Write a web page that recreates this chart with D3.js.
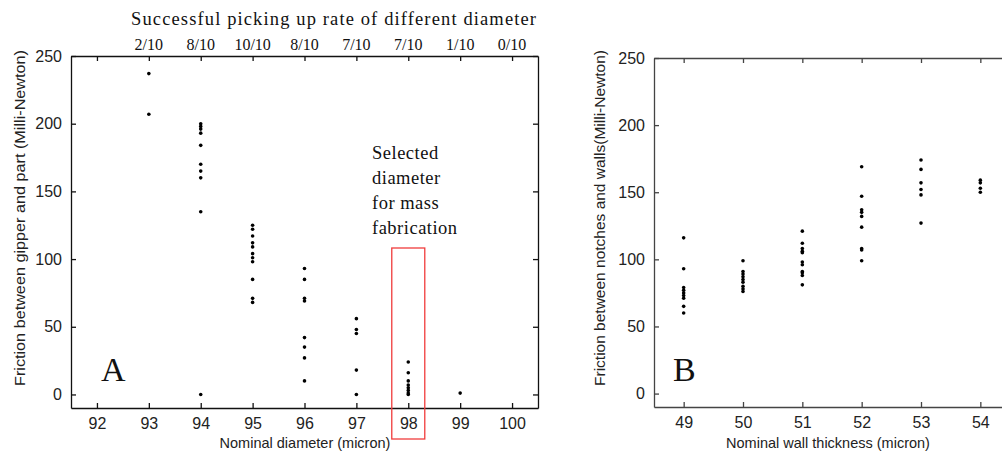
<!DOCTYPE html>
<html>
<head>
<meta charset="utf-8">
<script src="https://cdn.jsdelivr.net/npm/d3@7"></script>
<style>
  body { margin: 0; background: #fff; }
  svg { display: block; }
  .tick text { font-family: "Liberation Sans", Arial, sans-serif; }
</style>
</head>
<body>
<svg id="chart" width="1002" height="455"></svg>
<script>
// --- data ---
const diameters = [92, 93, 94, 95, 96, 97, 98, 99, 100];
const pickRates = ["", "2/10", "8/10", "10/10", "8/10", "7/10", "7/10", "1/10", "0/10"];
const frictionA = [
  [],
  [237, 207],
  [200, 198, 196, 193, 184, 170, 165, 160, 135, 0],
  [125, 122, 117, 112, 109, 104, 101, 98, 85, 71, 68],
  [93, 85, 71, 69, 42, 35, 27, 10],
  [56, 48, 45, 18, 0],
  [24, 16, 10, 7, 5, 3, 1, 0],
  [1],
  []
];

const walls = [49, 50, 51, 52, 53, 54];
const frictionB = [
  [116, 93, 79, 77, 75, 73, 71, 65, 60],
  [99, 91, 89, 87, 85, 83, 80, 78, 76],
  [121, 112, 108, 106, 105, 98, 96, 91, 90, 88, 81],
  [169, 147, 137, 135, 132, 124, 108, 107, 99],
  [174, 167, 157, 152, 148, 127],
  [159, 157, 153, 150]
];

const yTicks = [0, 50, 100, 150, 200, 250];

const svg = d3.select("#chart");
const sans = '"Liberation Sans", Arial, sans-serif';
const serif = '"Liberation Serif", "Times New Roman", serif';

function flatten(xs, groups) {
  const out = [];
  groups.forEach((g, i) => g.forEach(v => out.push({ x: xs[i], y: v })));
  return out;
}

function drawPanel(opt) {
  const { left, right, top, bottom, xDomain, xTicks, pts, color } = opt;
  const x = d3.scaleLinear().domain(xDomain).range([left, right]);
  const y = d3.scaleLinear().domain([-10, 250]).range([bottom, top]);
  const g = svg.append("g");

  const bottomAxis = d3.axisBottom(x).tickValues(xTicks).tickFormat(d3.format("d"))
    .tickSizeInner(-5).tickSizeOuter(0).tickPadding(10);
  const leftAxis = d3.axisLeft(y).tickValues(yTicks).tickFormat(d3.format("d"))
    .tickSizeInner(-5).tickSizeOuter(0).tickPadding(9);

  const gb = g.append("g").attr("transform", `translate(0,${bottom})`).call(bottomAxis);
  const gl = g.append("g").attr("transform", `translate(${left},0)`).call(leftAxis);
  const gt = g.append("g").attr("transform", `translate(0,${top})`)
    .call(d3.axisTop(x).tickValues(xTicks).tickSizeInner(-5).tickSizeOuter(0).tickFormat(""));
  [gb, gl, gt].forEach(a => {
    a.select(".domain").attr("stroke", color).attr("stroke-width", 1.3);
    a.selectAll(".tick line").attr("stroke", color).attr("stroke-width", 1.3);
    a.selectAll(".tick text").attr("fill", "#222").style("font-size", "16px");
  });
  gb.selectAll(".tick text").attr("dy", "0.71em");
  if (opt.rightAxis) {
    const gr = g.append("g").attr("transform", `translate(${right},0)`)
      .call(d3.axisRight(y).tickValues(yTicks).tickSizeInner(-5).tickSizeOuter(0).tickFormat(""));
    gr.select(".domain").attr("stroke", color).attr("stroke-width", 1.3);
    gr.selectAll(".tick line").attr("stroke", color).attr("stroke-width", 1.3);
  }

  g.append("g").selectAll("circle").data(pts).join("circle")
    .attr("cx", d => x(d.x)).attr("cy", d => y(d.y))
    .attr("r", 1.8).attr("fill", "#000");

  // axis titles
  g.append("text").attr("x", opt.xLabelX).attr("y", 448)
    .attr("text-anchor", "middle").attr("font-family", sans).attr("font-size", 14.5)
    .attr("fill", "#222").text(opt.xLabel);
  g.append("text").attr("transform", `translate(${opt.yLabelX},218) rotate(-90)`)
    .attr("text-anchor", "middle").attr("font-family", sans).attr("font-size", 14)
    .attr("fill", "#222").attr("textLength", 336).attr("lengthAdjust", "spacingAndGlyphs")
    .text(opt.yLabel);

  // panel letter
  g.append("text").attr("x", opt.letterX).attr("y", 381)
    .attr("font-family", serif).attr("font-size", 34).attr("fill", "#111").text(opt.letter);

  return { x, y, g };
}

const A = drawPanel({
  left: 71, right: 538, top: 56, bottom: 408,
  xDomain: [91.5, 100.5], xTicks: diameters,
  pts: flatten(diameters, frictionA), color: "#111", rightAxis: true,
  xLabel: "Nominal diameter (micron)", xLabelX: 305,
  yLabel: "Friction between gipper and part (Milli-Newton)", yLabelX: 25,
  letter: "A", letterX: 101
});

const B = drawPanel({
  left: 654, right: 1010, top: 58, bottom: 407,
  xDomain: [48.5, 54.5], xTicks: walls,
  pts: flatten(walls, frictionB), color: "#444", rightAxis: false,
  xLabel: "Nominal wall thickness (micron)", xLabelX: 828,
  yLabel: "Friction between notches and walls(Milli-Newton)", yLabelX: 605,
  letter: "B", letterX: 673
});

// top axis labels for panel A (pick-up rate)
A.g.append("g").selectAll("text").data(diameters.slice(1)).join("text")
  .attr("x", d => A.x(d)).attr("y", 50)
  .attr("text-anchor", "middle").attr("font-family", serif).attr("font-size", 16)
  .attr("fill", "#111").text((d, i) => pickRates[i + 1]);

A.g.append("text").attr("x", 131).attr("y", 25)
  .attr("font-family", serif).attr("font-size", 18.5).attr("fill", "#111")
  .attr("textLength", 405).attr("lengthAdjust", "spacing")
  .text("Successful picking up rate of different diameter");

// annotation for the selected diameter
const note = ["Selected", "diameter", "for mass", "fabrication"];
A.g.append("g").selectAll("text").data(note).join("text")
  .attr("x", 372).attr("y", (d, i) => 159 + i * 25)
  .attr("font-family", serif).attr("font-size", 18.5).attr("fill", "#111")
  .attr("letter-spacing", 0.5).text(d => d);

A.g.append("rect")
  .attr("x", A.x(98) - 16.5).attr("y", 248)
  .attr("width", 33).attr("height", 191)
  .attr("fill", "none").attr("stroke", "#f03c3c").attr("stroke-width", 1.3);
</script>
</body>
</html>
